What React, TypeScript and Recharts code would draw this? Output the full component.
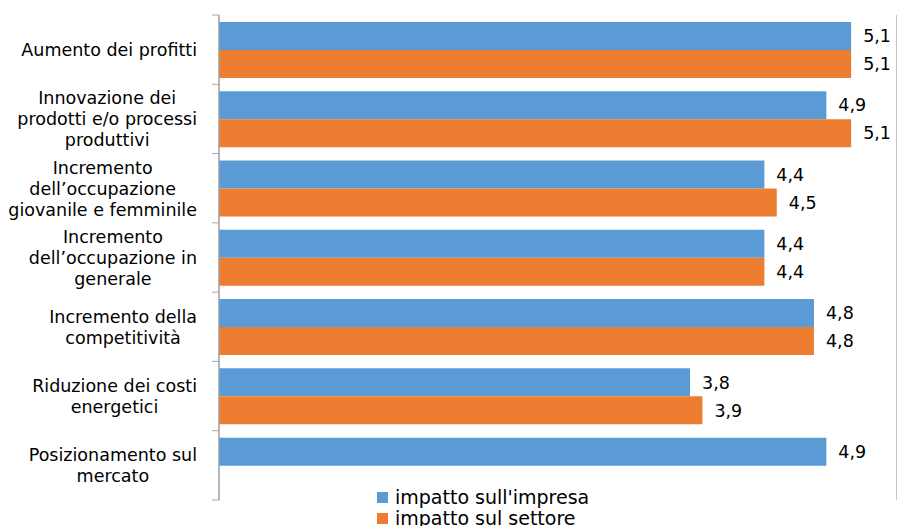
import { BarChart, Bar, XAxis, YAxis, CartesianGrid, LabelList } from "recharts"

const categories = [
  ["Aumento dei profitti"],
  ["Innovazione dei", "prodotti e/o processi", "produttivi"],
  ["Incremento", "dell\u2019occupazione ", "giovanile e femminile"],
  ["Incremento", "dell\u2019occupazione in", "generale"],
  ["Incremento della", "competitività"],
  ["Riduzione dei costi", "energetici"],
  ["Posizionamento sul", "mercato"],
]
const impresa = [5.1, 4.9, 4.4, 4.4, 4.8, 3.8, 4.9]
const settore: (number | null)[] = [5.1, 5.1, 4.5, 4.4, 4.8, 3.9, null]
const xTicks = [0, 1, 2, 3, 4, 5]

const seriesNames = { impresa: "impatto sull'impresa", settore: "impatto sul settore" }
const BLUE = "#5B9BD5"
const ORANGE = "#ED7D31"

const data = categories.map((lines, i) => ({
  name: lines.join(" "),
  lines,
  impresa: impresa[i],
  settore: settore[i],
}))

const W = 897
const H = 526
const AXIS_X = 219
const TOP = 15
const BOTTOM = 26
const PLOT_H = H - TOP - BOTTOM
const BAND = PLOT_H / categories.length
const FONT = "DejaVu Sans, Verdana, sans-serif"
const LABEL_SIZE = 17.5
const LABEL_RIGHT = 197

// canvas is only used to measure label lines so each block can be right-aligned
const ctx = typeof document !== "undefined" ? document.createElement("canvas").getContext("2d") : null
function textWidth(s: string) {
  if (!ctx) return s.length * LABEL_SIZE * 0.6
  ctx.font = `${LABEL_SIZE}px ${FONT}`
  return ctx.measureText(s).width
}

function CategoryTick(props: any) {
  const { y, index } = props
  const lines: string[] = data[index]?.lines ?? []
  const blockW = Math.max(...lines.map((l) => textWidth(l.trimEnd())))
  const cx = LABEL_RIGHT - blockW / 2
  const lh = 21
  const y0 = y - ((lines.length - 1) * lh) / 2
  const top = y - BAND / 2
  const bottom = y + BAND / 2
  return (
    <g>
      <line x1={AXIS_X - 7} x2={AXIS_X} y1={top} y2={top} stroke="#A6A6A6" />
      {index === categories.length - 1 && (
        <line x1={AXIS_X - 7} x2={AXIS_X} y1={bottom} y2={bottom} stroke="#A6A6A6" />
      )}
      <text textAnchor="middle" fontFamily={FONT} fontSize={LABEL_SIZE} fill="#000">
        {lines.map((l, i) => (
          <tspan key={i} x={cx} y={y0 + i * lh} dy="0.36em">
            {l.trimEnd()}
          </tspan>
        ))}
      </text>
    </g>
  )
}

// legend sits over the bottom of the plot, so it is kept out of the chart's layout
function LegendBox() {
  const items = [
    { label: seriesNames.impresa, color: BLUE },
    { label: seriesNames.settore, color: ORANGE },
  ]
  return (
    <div
      style={{
        position: "absolute",
        left: 377,
        top: 487,
        fontFamily: FONT,
        fontSize: 19,
        lineHeight: "21px",
        color: "#000",
      }}
    >
      {items.map((it) => (
        <div key={it.label} style={{ display: "flex", alignItems: "center", whiteSpace: "nowrap" }}>
          <span style={{ width: 11, height: 11, background: it.color, marginRight: 7, display: "inline-block" }} />
          {it.label}
        </div>
      ))}
    </div>
  )
}

const fmt = (v: any) => (v == null ? "" : Number(v).toFixed(1).replace(".", ","))

export default function App() {
  return (
    <div style={{ position: "relative", width: W, height: H, background: "#fff", overflow: "hidden" }}>
      <style>{`body{margin:0;overflow:hidden}`}</style>
      <BarChart
        width={W}
        height={H}
        data={data}
        layout="vertical"
        margin={{ top: TOP, right: 0, bottom: BOTTOM, left: 0 }}
        barCategoryGap="10%"
        barGap={0}
      >
        <CartesianGrid horizontal={false} stroke="#8C8C8C" />
        <XAxis
          type="number"
          domain={[0, 5.47]}
          ticks={xTicks}
          allowDataOverflow
          axisLine={false}
          tickLine={false}
          tick={false}
          height={0}
        />
        <YAxis
          type="category"
          dataKey="name"
          width={AXIS_X}
          axisLine={{ stroke: "#A6A6A6" }}
          tickLine={false}
          tick={<CategoryTick />}
          interval={0}
        />
        <Bar dataKey="impresa" name={seriesNames.impresa} fill={BLUE} isAnimationActive={false}>
          <LabelList
            dataKey="impresa"
            position="right"
            offset={12}
            formatter={fmt}
            style={{ fontFamily: FONT, fontSize: LABEL_SIZE, fill: "#000" }}
          />
        </Bar>
        <Bar dataKey="settore" name={seriesNames.settore} fill={ORANGE} isAnimationActive={false}>
          <LabelList
            dataKey="settore"
            position="right"
            offset={12}
            formatter={fmt}
            style={{ fontFamily: FONT, fontSize: LABEL_SIZE, fill: "#000" }}
          />
        </Bar>
      </BarChart>
      <LegendBox />
    </div>
  )
}
